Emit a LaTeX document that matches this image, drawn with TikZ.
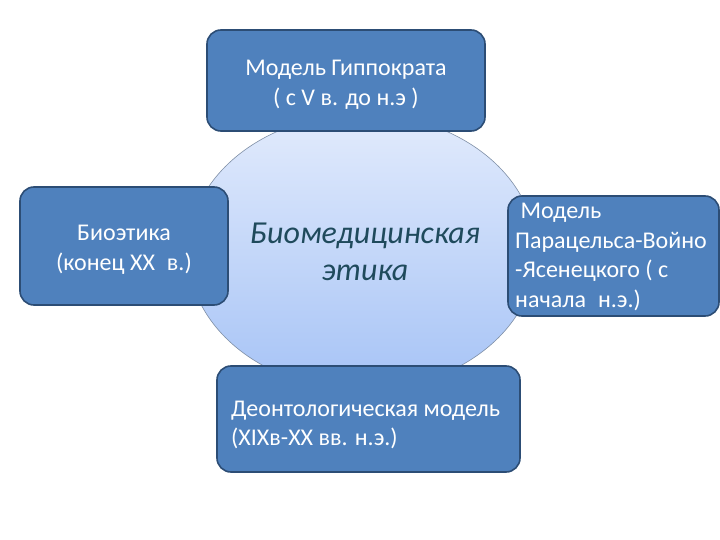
\documentclass[tikz,border=0pt]{standalone}
\usepackage{fontspec}
\setmainfont{Carlito}
\usetikzlibrary{shapes.geometric,shadows}
\definecolor{boxfill}{HTML}{4F81BD}
\definecolor{boxline}{HTML}{2C4D75}
\definecolor{elltop}{HTML}{E2EBFC}
\definecolor{ellbot}{HTML}{A6C3F6}
\definecolor{ellline}{HTML}{7F8FA6}
\definecolor{centertext}{HTML}{1F4A5C}
\tikzset{
  modelbox/.style={draw=boxline, line width=1.6pt, fill=boxfill, rounded corners=14pt},
  boxtext/.style={text=white, font=\fontsize{24}{29.5}\selectfont, inner sep=0pt},
}
\begin{document}
\begin{tikzpicture}[x=1pt,y=-1pt]
\useasboundingbox (0,0) rectangle (720,540);
\fill[white] (0,0) rectangle (720,540);
% central ellipse
\node[ellipse, draw=ellline, line width=0.6pt, top color=elltop, bottom color=ellbot,
      minimum width=348pt, minimum height=276pt, inner sep=0pt] (ell) at (362,252) {};
\node[text=centertext, font=\fontsize{32}{37}\selectfont\itshape, align=center, inner sep=0pt] (centre) at (365,252)
  {Биомедицинская\\этика};
% boxes
\draw[modelbox] (207,30) rectangle (485,131);
\node[boxtext, align=center] (top) at (346,85) {Модель Гиппократа\\( с V в. до н.э )};
\draw[modelbox] (20,187) rectangle (228,305);
\node[boxtext, align=center] (left) at (124,250) {Биоэтика\\(конец XX\enspace в.)};
\draw[modelbox] (508,196) rectangle (719,316);
\node[boxtext, align=left, anchor=west] (right) at (515,257)
  {\ Модель\\Парацельса-Войно\\-Ясенецкого ( с\\начала\enspace н.э.)};
\draw[modelbox] (217,366) rectangle (520,472);
\node[boxtext, align=left, anchor=west] (bottom) at (231,425)
  {Деонтологическая модель\\(XIXв-XX вв. н.э.)};
\end{tikzpicture}
\end{document}
